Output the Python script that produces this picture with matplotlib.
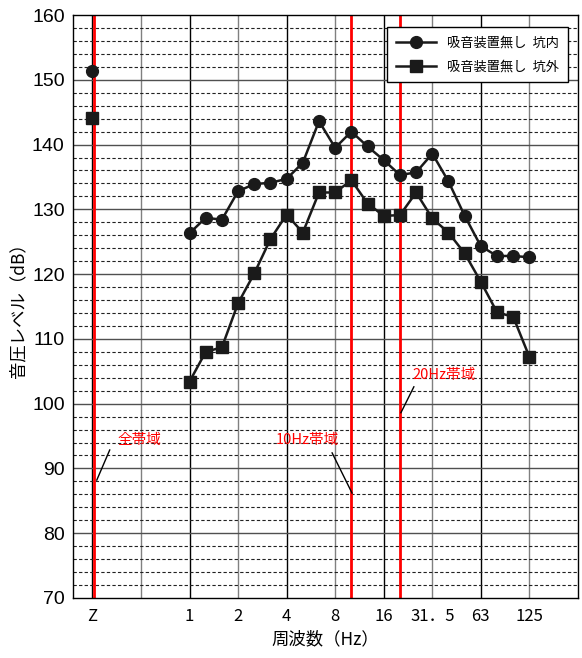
import matplotlib.pyplot as plt
import numpy as np

plt.rcParams['font.family'] = ['Noto Sans CJK JP', 'DejaVu Sans']

# 1/3 octave bands (index 0 = 1 Hz), Z = overall band placed to the left
bands = ['1', '1.25', '1.6', '2', '2.5', '3.15', '4', '5', '6.3', '8', '10',
         '12.5', '16', '20', '25', '31.5', '40', '50', '63', '80', '100', '125']
inside = [126.3, 128.7, 128.4, 132.8, 133.9, 134.1, 134.7, 137.2, 143.6, 139.5, 142.0,
          139.7, 137.6, 135.3, 135.7, 138.6, 134.3, 129.0, 124.3, 122.8, 122.8, 122.6]
outside = [103.4, 108.0, 108.7, 115.5, 120.1, 125.4, 129.2, 126.4, 132.6, 132.6, 134.5,
           130.9, 129.0, 129.1, 132.6, 128.6, 126.4, 123.2, 118.8, 114.1, 113.4, 107.2]
z_inside = 151.4
z_outside = 144.1
labels = ['吸音装置無し  坑内', '吸音装置無し  坑外']
tick_labels = ['Z', '1', '2', '4', '8', '16', '31．5', '63', '125']

Z_POS = -6
x = np.arange(len(bands))

fig = plt.figure(figsize=(5.82, 6.58), dpi=100)
ax = fig.add_axes([0.1254, 0.0912, 0.8677, 0.886])

# grid
for i, gx in enumerate(range(-6, 24, 3)):
    ax.axvline(gx, color='black' if i % 2 == 0 else '#808080', lw=1.0, zorder=1)
for gy in range(72, 160, 2):
    if gy % 10 == 0:
        ax.axhline(gy, color='#505050', lw=1.0, zorder=1)
    else:
        ax.axhline(gy, color='#222222', lw=0.8, ls=(0, (3, 2)), zorder=1)

# band markers
for rx in [Z_POS + 0.12, bands.index('10'), bands.index('20')]:
    ax.axvline(rx, color='red', lw=2.0, zorder=2)

ax.plot(x, inside, '-o', color='#1a1a1a', lw=1.8, ms=8.5, zorder=4, label=labels[0])
ax.plot(x, outside, '-s', color='#1a1a1a', lw=1.8, ms=8.5, zorder=4, label=labels[1])
ax.plot([Z_POS], [z_inside], 'o', color='#1a1a1a', ms=8.5, zorder=4)
ax.plot([Z_POS], [z_outside], 's', color='#1a1a1a', ms=8.5, zorder=4)

# annotations
notes = [('全帯域', (-3.1, 94.4), (-5.73, 88.2), (-4.93, 92.85)),
         ('10Hz帯域', (7.3, 94.4), (10.04, 86.2), (8.81, 92.4)),
         ('20Hz帯域', (15.7, 104.4), (13.06, 98.6), (13.86, 102.6))]
for txt, tpos, p0, p1 in notes:
    ax.plot([p0[0], p1[0]], [p0[1], p1[1]], color='black', lw=1.0, zorder=3)
    ax.text(tpos[0], tpos[1], txt, color='red', fontsize=10.5, ha='center', va='center',
            zorder=5)

ax.set_xlim(-7.2, 24)
ax.set_ylim(70, 160)
ax.set_xticks([Z_POS, 0, 3, 6, 9, 12, 15, 18, 21])
ax.set_xticklabels(tick_labels, fontsize=12)
ax.set_yticks(range(70, 161, 10))
ax.set_yticklabels([str(v) for v in range(70, 161, 10)], fontsize=14,
                   family=['Liberation Sans Narrow', 'Liberation Sans'])
ax.tick_params(axis='both', length=0, pad=6)
ax.tick_params(axis='x', pad=7)
ax.set_xlabel('周波数（Hz）', fontsize=12.5, labelpad=4)
ax.set_ylabel('音圧レベル（dB）', fontsize=12.5, labelpad=3)
for s in ax.spines.values():
    s.set_linewidth(1.0)
    s.set_color('black')

leg = ax.legend(loc='upper right', fontsize=9.5, fancybox=False, edgecolor='black',
                framealpha=1, handlelength=3.0, borderpad=0.7, labelspacing=0.8,
                bbox_to_anchor=(0.993, 0.99))
leg.get_frame().set_linewidth(1.0)

fig.savefig('out.png', dpi=100)
